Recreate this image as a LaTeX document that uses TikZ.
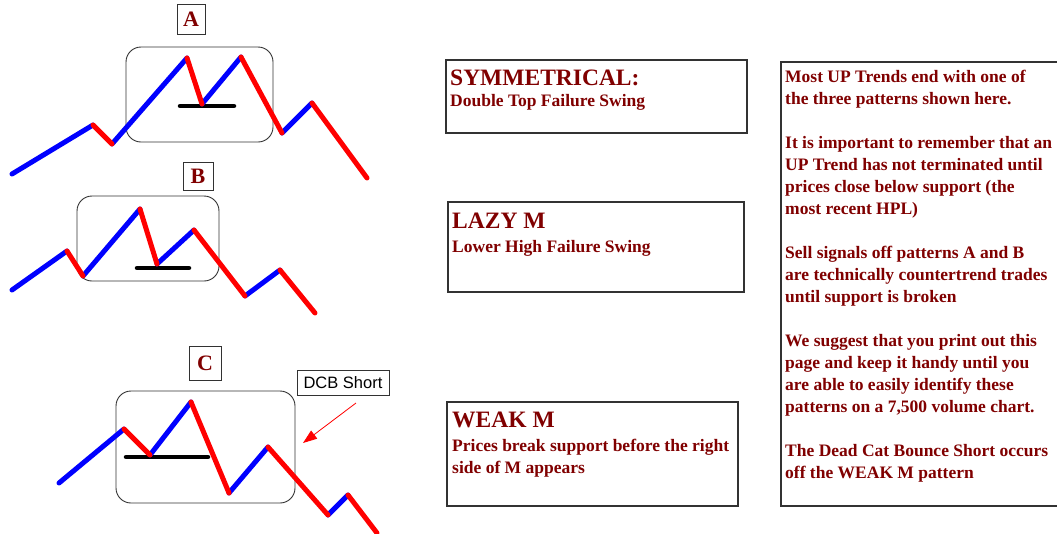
\documentclass[tikz,border=0pt]{standalone}
\usepackage{fontspec}
\setmainfont{Liberation Serif}
\newfontfamily\arialfont{Liberation Sans}
\usetikzlibrary{arrows.meta}
\definecolor{txtred}{RGB}{128,0,0}
\definecolor{legblue}{RGB}{0,0,255}
\definecolor{legred}{RGB}{255,0,0}
\definecolor{edgegray}{RGB}{50,50,50}
\begin{document}
\begin{tikzpicture}[x=1pt,y=-1pt,
  upleg/.style={legblue,line width=5pt,line cap=round,line join=round},
  downleg/.style={legred,line width=5pt,line cap=round,line join=round},
  support/.style={black,line width=4.5pt,line cap=round},
  swingbox/.style={edgegray,line width=0.9pt,rounded corners=15pt},
  tag/.style={draw=edgegray,line width=0.9pt,inner sep=0pt,text=txtred,font=\fontsize{22}{24}\selectfont\bfseries},
  panel/.style={edgegray,line width=1.3pt},
  heading/.style={anchor=base west,inner sep=0pt,text=txtred,font=\fontsize{23.5}{26}\selectfont\bfseries},
  subline/.style={anchor=base west,inner sep=0pt,align=left,text=txtred,font=\fontsize{17.5}{22}\selectfont\bfseries}]
  \useasboundingbox (0,0) rectangle (1057,533);

  % Pattern A
  \begin{scope}
    \node[tag,minimum width=28pt,minimum height=30pt] (tagA) at (191,19) {A};
    \draw[swingbox] (126,47) rectangle (273,142);
    \draw[support] (180,106) -- (234,106);
    \draw[upleg] (12,174) -- (93,125) (112,144) -- (187,58) (202,104) -- (241,57) (282,133) -- (312,103);
    \draw[downleg] (93,125) -- (112,144) (187,58) -- (202,104) (241,57) -- (282,133) (312,103) -- (367,178);
  \end{scope}

  % Pattern B
  \begin{scope}
    \node[tag,minimum width=30pt,minimum height=28pt] (tagB) at (198,176) {B};
    \draw[swingbox] (77,196) rectangle (219,281);
    \draw[support] (137,268) -- (189,268);
    \draw[upleg] (12,290) -- (67,251) (83,276) -- (140,209) (157,264) -- (194,230) (245,296) -- (280,270);
    \draw[downleg] (67,251) -- (83,276) (140,209) -- (157,264) (194,230) -- (245,296) (280,270) -- (315,313);
  \end{scope}

  % Pattern C
  \begin{scope}
    \node[tag,minimum width=32pt,minimum height=34pt] (tagC) at (205,363) {C};
    \draw[swingbox] (116,391) rectangle (295,503);
    \draw[support] (126,457) -- (208,457);
    \draw[upleg] (59,483) -- (124,429) (150,455) -- (191,402) (229,493) -- (268,447) (328,515) -- (348,495);
    \draw[downleg] (124,429) -- (150,455) (191,402) -- (229,493) (268,447) -- (328,515) (348,495) -- (377,533);
    \node[draw=edgegray,line width=0.9pt,minimum width=92pt,minimum height=25pt,inner sep=0pt,
      font=\arialfont\fontsize{16.5}{18}\selectfont] (dcb) at (343,382.5) {DCB Short};
    \coordinate (dcbtail) at (356,403);
    \coordinate (dcbtip) at (303,443);
    \draw[legred,line width=0.8pt,-{Triangle[length=14pt,width=10pt]}] (dcbtail) -- (dcbtip);
  \end{scope}

  % Captions
  \draw[panel] (446,60) rectangle (747,133);
  \node[heading] (symhead) at (450,85) {SYMMETRICAL:};
  \node[subline] (symsub) at (450,106) {Double Top Failure Swing};

  \draw[panel] (448,202) rectangle (744,292);
  \node[heading] (lazyhead) at (452,228) {LAZY M};
  \node[subline] (lazysub) at (452,252) {Lower High Failure Swing};

  \draw[panel] (447,402) rectangle (738,506);
  \node[heading] (weakhead) at (452,427) {WEAK M};
  % base of a multi-line node sits on its last line
  \node[subline] (weaksub) at (452,473) {Prices break support before the right\\side of M appears};

  % Notes
  \draw[panel] (1060,62) -- (781,62) -- (781,506) -- (1060,506);
  \node[subline] (notes) at (785,478) {Most UP Trends end with one of\\
    the three patterns shown here.\\[22pt]
    It is important to remember that an\\
    UP Trend has not terminated until\\
    prices close below support (the\\
    most recent HPL)\\[22pt]
    Sell signals off patterns A and B\\
    are technically countertrend trades\\
    until support is broken\\[22pt]
    We suggest that you print out this\\
    page and keep it handy until you\\
    are able to easily identify these\\
    patterns on a 7,500 volume chart.\\[22pt]
    The Dead Cat Bounce Short occurs\\
    off the WEAK M pattern};
\end{tikzpicture}
\end{document}
